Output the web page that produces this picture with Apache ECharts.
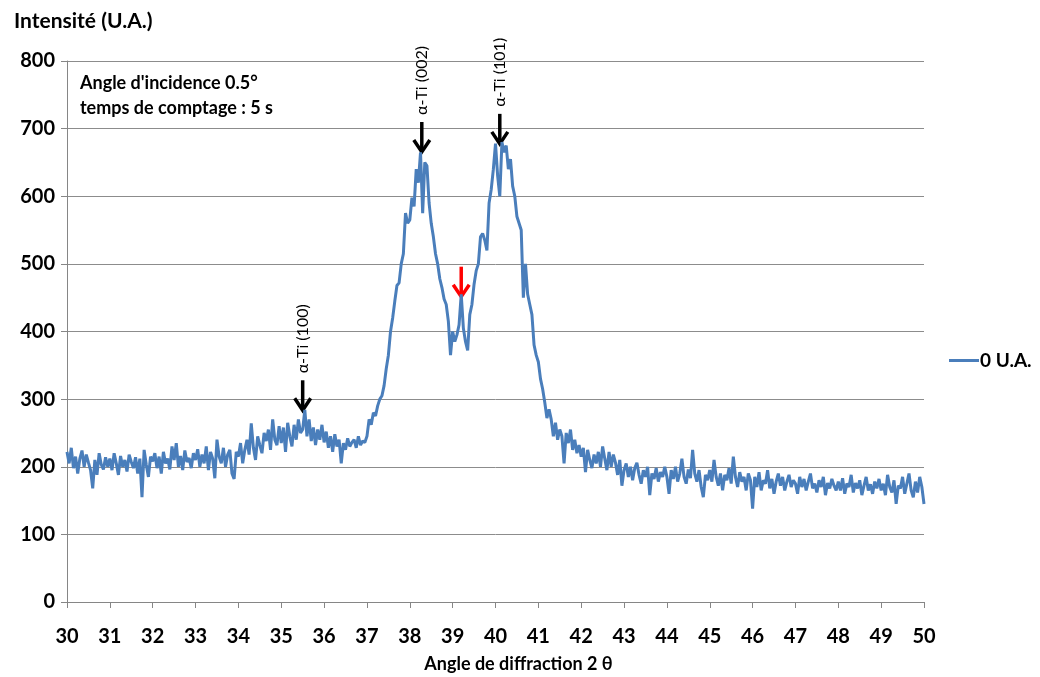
<!doctype html>
<html>
<head>
<meta charset="utf-8">
<title>DRX</title>
<style>
html, body { margin: 0; padding: 0; background: #fff; }
#main { width: 1040px; height: 677px; }
</style>
</head>
<body>
<div id="main"></div>
<script src="https://cdn.jsdelivr.net/npm/echarts@6/dist/echarts.min.js"></script>
<script>
// 2 theta from 30 to 50, step 0.05
var start = 30, step = 0.05;

var intensity = [
  // 30
  222, 205, 228, 198, 215, 190, 212, 224, 200, 218, 206, 195, 168, 210, 188, 220, 203, 196, 214, 200,
  // 31
  212, 195, 220, 205, 188, 216, 200, 210, 193, 218, 207, 198, 214, 190, 212, 155, 225, 203, 185, 215,
  // 32
  208, 220, 198, 215, 190, 222, 205, 212, 196, 230, 210, 235, 200, 216, 195, 224, 207, 213, 198, 220,
  // 33
  210, 226, 200, 218, 205, 230, 195, 222, 212, 183, 240, 215, 205, 228, 200, 218, 225, 190, 182, 222,
  // 34
  215, 235, 205, 225, 240, 218, 264, 228, 210, 245, 232, 220, 250, 238, 255, 225, 270, 240, 232, 260,
  // 35
  235, 258, 222, 265, 245, 230, 262, 240, 270, 250, 255, 284, 245, 270, 238, 258, 232, 255, 240, 262,
  // 36
  236, 252, 228, 245, 222, 248, 230, 240, 205, 235, 225, 242, 230, 236, 240, 228, 245, 232, 238, 236,
  // 37
  245, 270, 262, 280, 275, 290, 300, 305, 320, 345, 365, 400, 420, 445, 468, 472, 500, 515, 575, 560,
  // 38
  565, 598, 585, 640, 620, 665, 575, 650, 645, 590, 560, 540, 515, 500, 478, 465, 448, 440, 415, 365,
  // 39
  400, 385, 395, 410, 455, 405, 385, 372, 425, 440, 470, 490, 500, 540, 545, 535, 520, 590, 610, 640,
  // 40
  678, 630, 600, 680, 665, 675, 640, 655, 615, 600, 570, 560, 550, 450, 500, 455, 440, 425, 380, 365,
  // 41
  355, 330, 315, 295, 272, 285, 270, 245, 265, 240, 255, 245, 205, 250, 235, 255, 225, 240, 220, 232,
  // 42
  215, 228, 192, 225, 210, 198, 218, 205, 222, 200, 230, 212, 195, 222, 200, 218, 206, 188, 210, 172,
  // 43
  195, 205, 185, 200, 180, 198, 206, 188, 175, 195, 185, 200, 158, 190, 182, 198, 178, 192, 185, 200,
  // 44
  185, 160, 195, 182, 200, 178, 190, 212, 185, 175, 196, 183, 225, 190, 178, 195, 170, 155, 188, 180,
  // 45
  195, 178, 210, 185, 172, 190, 165, 188, 180, 198, 175, 215, 185, 170, 192, 178, 185, 165, 190, 180,
  // 46
  138, 185, 170, 192, 165, 180, 175, 195, 168, 182, 160, 178, 190, 172, 185, 165, 178, 188, 170, 180,
  // 47
  175, 160, 185, 170, 182, 165, 178, 190, 168, 175, 162, 180, 170, 185, 158, 176, 168, 182, 172, 165,
  // 48
  178, 165, 183, 160, 175, 170, 188, 162, 176, 168, 180, 158, 172, 185, 165, 174, 160, 178, 168, 182,
  // 49
  165, 175, 158, 188, 170, 162, 180, 145, 172, 168, 185, 160, 175, 190, 165, 155, 178, 162, 185, 170,
  // 50
  145
];

var seriesName = '0 U.A.';
var peakLabels = ['\u03b1-Ti (100)', '\u03b1-Ti (002)', '\u03b1-Ti (101)'];
var peakPos = [35.5, 38.28, 40.1];
var peakTop = [282, 664, 676];
var dipPos = 39.2, dipTop = 450;

var data = intensity.map(function (v, i) {
  return [+(start + i * step).toFixed(2), v];
});

var FONT = 'Lato';
var chart = echarts.init(document.getElementById('main'));

chart.setOption({
  animation: false,
  backgroundColor: '#fff',
  textStyle: { fontFamily: FONT },
  title: {
    text: 'Intensité (U.A.)',
    left: 9, top: 6,
    textStyle: { fontFamily: FONT, fontSize: 21, fontWeight: 'bold', color: '#000' }
  },
  grid: { left: 67, right: 116, top: 61, bottom: 75, outerBoundsMode: 'none', containLabel: false },
  legend: {
    orient: 'vertical',
    left: 944, top: 346,
    itemWidth: 30, itemHeight: 3, itemGap: 0,
    icon: 'rect',
    textStyle: { fontFamily: FONT, fontSize: 19, fontWeight: 'bold', color: '#000', padding: [0, 0, 0, -4] },
    data: [seriesName]
  },
  xAxis: {
    type: 'value',
    min: 30, max: 50, interval: 1,
    name: 'Angle de diffraction 2 θ',
    nameLocation: 'middle',
    nameGap: 53,
    nameTextStyle: { fontFamily: FONT, fontSize: 18, fontWeight: 'bold', color: '#000', padding: [0, 0, 0, 46] },
    axisLine: { show: true, lineStyle: { color: '#868686', width: 1 } },
    axisTick: { show: true, length: 6, lineStyle: { color: '#868686' } },
    axisLabel: { margin: 25, fontFamily: FONT, fontSize: 20, fontWeight: 'bold', color: '#000' },
    splitLine: { show: false }
  },
  yAxis: {
    type: 'value',
    min: 0, max: 800, interval: 100,
    axisLine: { show: true, lineStyle: { color: '#868686', width: 1 } },
    axisTick: { show: true, length: 6, lineStyle: { color: '#868686' } },
    axisLabel: { margin: 12, fontFamily: FONT, fontSize: 20, fontWeight: 'bold', color: '#000' },
    splitLine: { show: true, lineStyle: { color: '#8c8c8c', width: 1 } }
  },
  series: [{
    name: seriesName,
    type: 'line',
    data: data,
    showSymbol: false,
    symbol: 'none',
    color: '#4a7ebb',
    lineStyle: { color: '#4a7ebb', width: 3 }
  }]
});

function arrow(x, yTip, color) {
  var len = 30, head = 12, hw = 8;
  return {
    type: 'group',
    children: [
      { type: 'line', shape: { x1: x, y1: yTip - len, x2: x, y2: yTip - 3 },
        style: { stroke: color, lineWidth: 3.5 } },
      { type: 'polyline', shape: { points: [[x - hw, yTip - head], [x, yTip], [x + hw, yTip - head]] },
        style: { stroke: color, lineWidth: 3.5, fill: null } }
    ]
  };
}

var gfx = [];
gfx.push({
  type: 'text', left: 80, top: 71,
  style: {
    text: "Angle d'incidence 0.5°\ntemps de comptage : 5 s",
    font: 'bold 18px ' + FONT, fill: '#000', lineHeight: 25
  }
});
peakPos.forEach(function (p, i) {
  var pt = chart.convertToPixel({ gridIndex: 0 }, [p, peakTop[i]]);
  var yTip = pt[1] - 1;
  gfx.push(arrow(pt[0], yTip, '#000'));
  gfx.push({
    type: 'text',
    x: pt[0], y: yTip - 37,
    rotation: Math.PI / 2,
    style: {
      text: peakLabels[i], font: '16px ' + FONT, fill: '#000',
      align: 'left', verticalAlign: 'middle'
    }
  });
});
var dp = chart.convertToPixel({ gridIndex: 0 }, [dipPos, dipTop]);
gfx.push(arrow(dp[0], dp[1] - 1, '#ff0000'));

chart.setOption({ graphic: gfx });
</script>
</body>
</html>
